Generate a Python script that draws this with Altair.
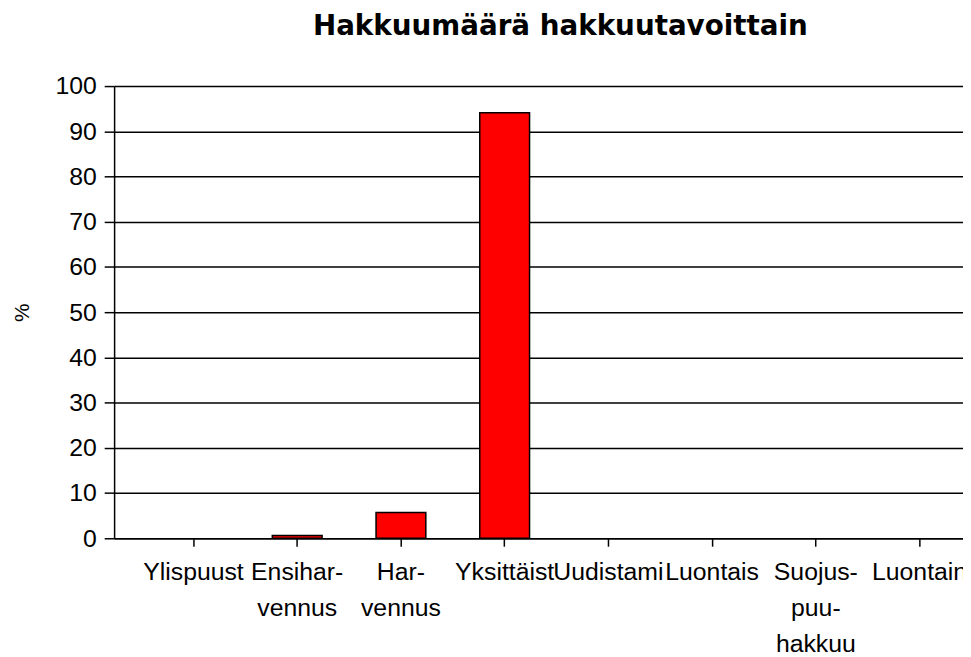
import altair as alt
import pandas as pd

categories = ["Ylispuust", "Ensihar-|vennus", "Har-|vennus", "Yksittäist",
              "Uudistami", "Luontais", "Suojus-|puu-|hakkuu", "Luontain"]
values = [0.0, 0.6, 5.7, 94.1, 0.0, 0.0, 0.0, 0.0]
y_ticks = [0, 10, 20, 30, 40, 50, 60, 70, 80, 90, 100]

df = pd.DataFrame({"cat": categories, "val": values})

chart = alt.Chart(df).mark_bar(
    color="#FF0000", stroke="black", strokeWidth=1.5
).encode(
    x=alt.X("cat:N", sort=categories, title=None,
            scale=alt.Scale(paddingInner=0.52, paddingOuter=0.352, align=0.746),
            axis=alt.Axis(labelExpr="split(datum.label, '|')", labelAngle=0,
                          labelFont="Liberation Sans", labelFontSize=25,
                          labelColor="black", labelLineHeight=36,
                          labelPadding=14, tickSize=8, tickColor="black",
                          tickWidth=1.5, domainColor="black", domainWidth=1.5,
                          labelBaseline="top", labelOverlap=False, grid=False)),
    y=alt.Y("val:Q", title="%",
            scale=alt.Scale(domain=[0, 100], nice=False),
            axis=alt.Axis(values=y_ticks, labelFont="Liberation Sans",
                          labelFontSize=25, labelColor="black", labelPadding=8,
                          tickSize=10, tickColor="black", tickWidth=1.5,
                          domainColor="black", domainWidth=1.5,
                          grid=True, gridColor="black", gridWidth=1.5,
                          gridOpacity=1, titleFont="Liberation Sans",
                          titleFontSize=21, titleColor="black",
                          titleFontWeight="normal", titlePadding=23)),
    strokeOpacity=alt.condition(alt.datum.val > 0, alt.value(1), alt.value(0)),
).properties(
    width=856, height=456,
    title=alt.TitleParams("Hakkuumäärä hakkuutavoittain",
                          font="DejaVu Sans", fontSize=28, fontWeight="bold",
                          color="black", anchor="middle", dx=22, offset=33),
    autosize=alt.AutoSizeParams(type="none"),
    padding={"left": 107, "top": 76, "right": 0, "bottom": 117},
).configure_view(stroke=None)

chart.save("out.html", embed_options={"renderer": "svg", "actions": False})
